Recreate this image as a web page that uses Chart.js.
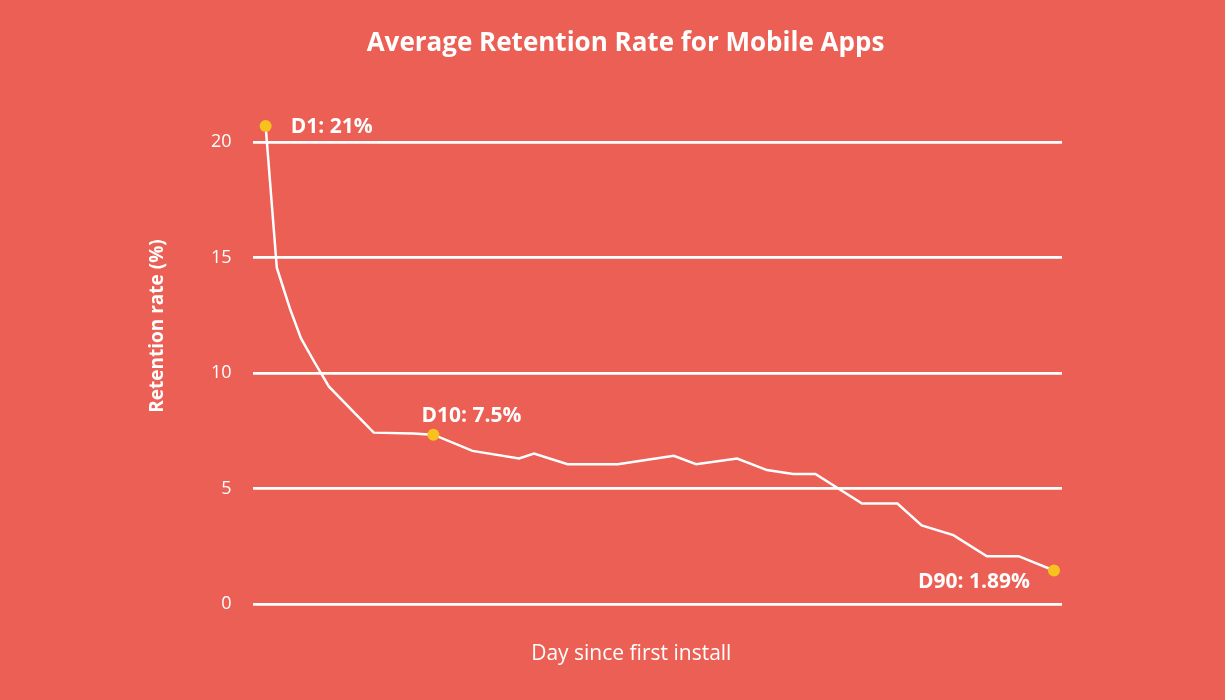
<!DOCTYPE html>
<html>
<head>
<meta charset="utf-8">
<script src="https://cdn.jsdelivr.net/npm/chart.js@4.4.0/dist/chart.umd.min.js"></script>
<style>
  html, body { margin: 0; padding: 0; background: #eb5f55; }
  #wrap { width: 1225px; height: 700px; }
</style>
</head>
<body>
<div id="wrap"><canvas id="retention"></canvas></div>
<script>
// horizontal position of each vertex along the (unlabelled) day axis
const steps = [1.0, 1.6, 2.3, 2.9, 3.6, 4.4, 6.8, 8.9, 10.0, 12.1, 14.6, 15.4, 17.2, 19.9, 22.9, 24.1, 26.3, 27.9, 29.3, 30.5, 33.0, 34.9, 36.2, 37.9, 39.7, 41.4, 43.3];
// retention rate (%) at each vertex
const retention = [20.7, 14.56, 12.8, 11.5, 10.5, 9.41, 7.42, 7.38, 7.33, 6.63, 6.30, 6.51, 6.05, 6.05, 6.42, 6.05, 6.30, 5.80, 5.63, 5.63, 4.35, 4.35, 3.40, 2.98, 2.07, 2.07, 1.45];
const markedIdx = [0, 8, 26];
const markedText = ['D1: 21%', 'D10: 7.5%', 'D90: 1.89%'];
const yTicks = [0, 5, 10, 15, 20];
const chartTitle = 'Average Retention Rate for Mobile Apps';
const xTitle = 'Day since first install';
const yTitle = 'Retention rate (%)';

const WHITE = '#ffffff';
const DOT = '#f7c21e';
const FONT = '"Open Sans", "DejaVu Sans", sans-serif';

// callouts next to the marked points, plus the titles
const captions = {
  id: 'captions',
  afterDatasetsDraw(chart) {
    const meta = chart.getDatasetMeta(0);
    const area = chart.chartArea;
    const place = [
      { dx: 25, dy: 1, align: 'left' },
      { dx: 38, dy: -19, align: 'center' },
      { dx: -24, dy: 12, align: 'right' }
    ];
    const ctx = chart.ctx;
    ctx.save();
    ctx.fillStyle = WHITE;
    ctx.textBaseline = 'middle';

    ctx.font = 'bold 21px ' + FONT;
    markedIdx.forEach((idx, i) => {
      const pt = meta.data[idx];
      ctx.textAlign = place[i].align;
      ctx.fillText(markedText[i], pt.x + place[i].dx, pt.y + place[i].dy);
    });

    ctx.textAlign = 'center';
    ctx.font = 'bold 26px ' + FONT;
    ctx.fillText(chartTitle, chart.width / 2 + 13, 44);

    ctx.font = '21px ' + FONT;
    ctx.fillText(xTitle, (area.left + area.right) / 2 - 26, area.bottom + 50);

    ctx.translate(158, area.top + 207);
    ctx.rotate(-Math.PI / 2);
    ctx.font = 'bold 19px ' + FONT;
    ctx.fillText(yTitle, 0, 0);
    ctx.restore();
  }
};

new Chart(document.getElementById('retention'), {
  type: 'line',
  data: {
    datasets: [{
      data: steps.map((s, i) => ({ x: s, y: retention[i] })),
      borderColor: WHITE,
      borderWidth: 2.5,
      tension: 0,
      clip: false,
      pointRadius: ctx => markedIdx.includes(ctx.dataIndex) ? 6 : 0,
      pointBackgroundColor: DOT,
      pointBorderWidth: 0
    }]
  },
  options: {
    responsive: true,
    maintainAspectRatio: false,
    animation: false,
    layout: { padding: { left: 190, right: 163, top: 119, bottom: 96 } },
    plugins: {
      legend: { display: false },
      tooltip: { enabled: false },
      title: { display: false }
    },
    scales: {
      x: {
        type: 'linear',
        display: false,
        min: 0.3,
        max: 43.73
      },
      y: {
        min: 0,
        max: 21,
        afterBuildTicks: axis => { axis.ticks = yTicks.map(v => ({ value: v })); },
        grid: { color: WHITE, lineWidth: 2.8, drawTicks: false },
        border: { display: false },
        ticks: {
          color: WHITE,
          font: { family: FONT, size: 18 },
          padding: 21
        }
      }
    }
  },
  plugins: [captions]
});
</script>
</body>
</html>
